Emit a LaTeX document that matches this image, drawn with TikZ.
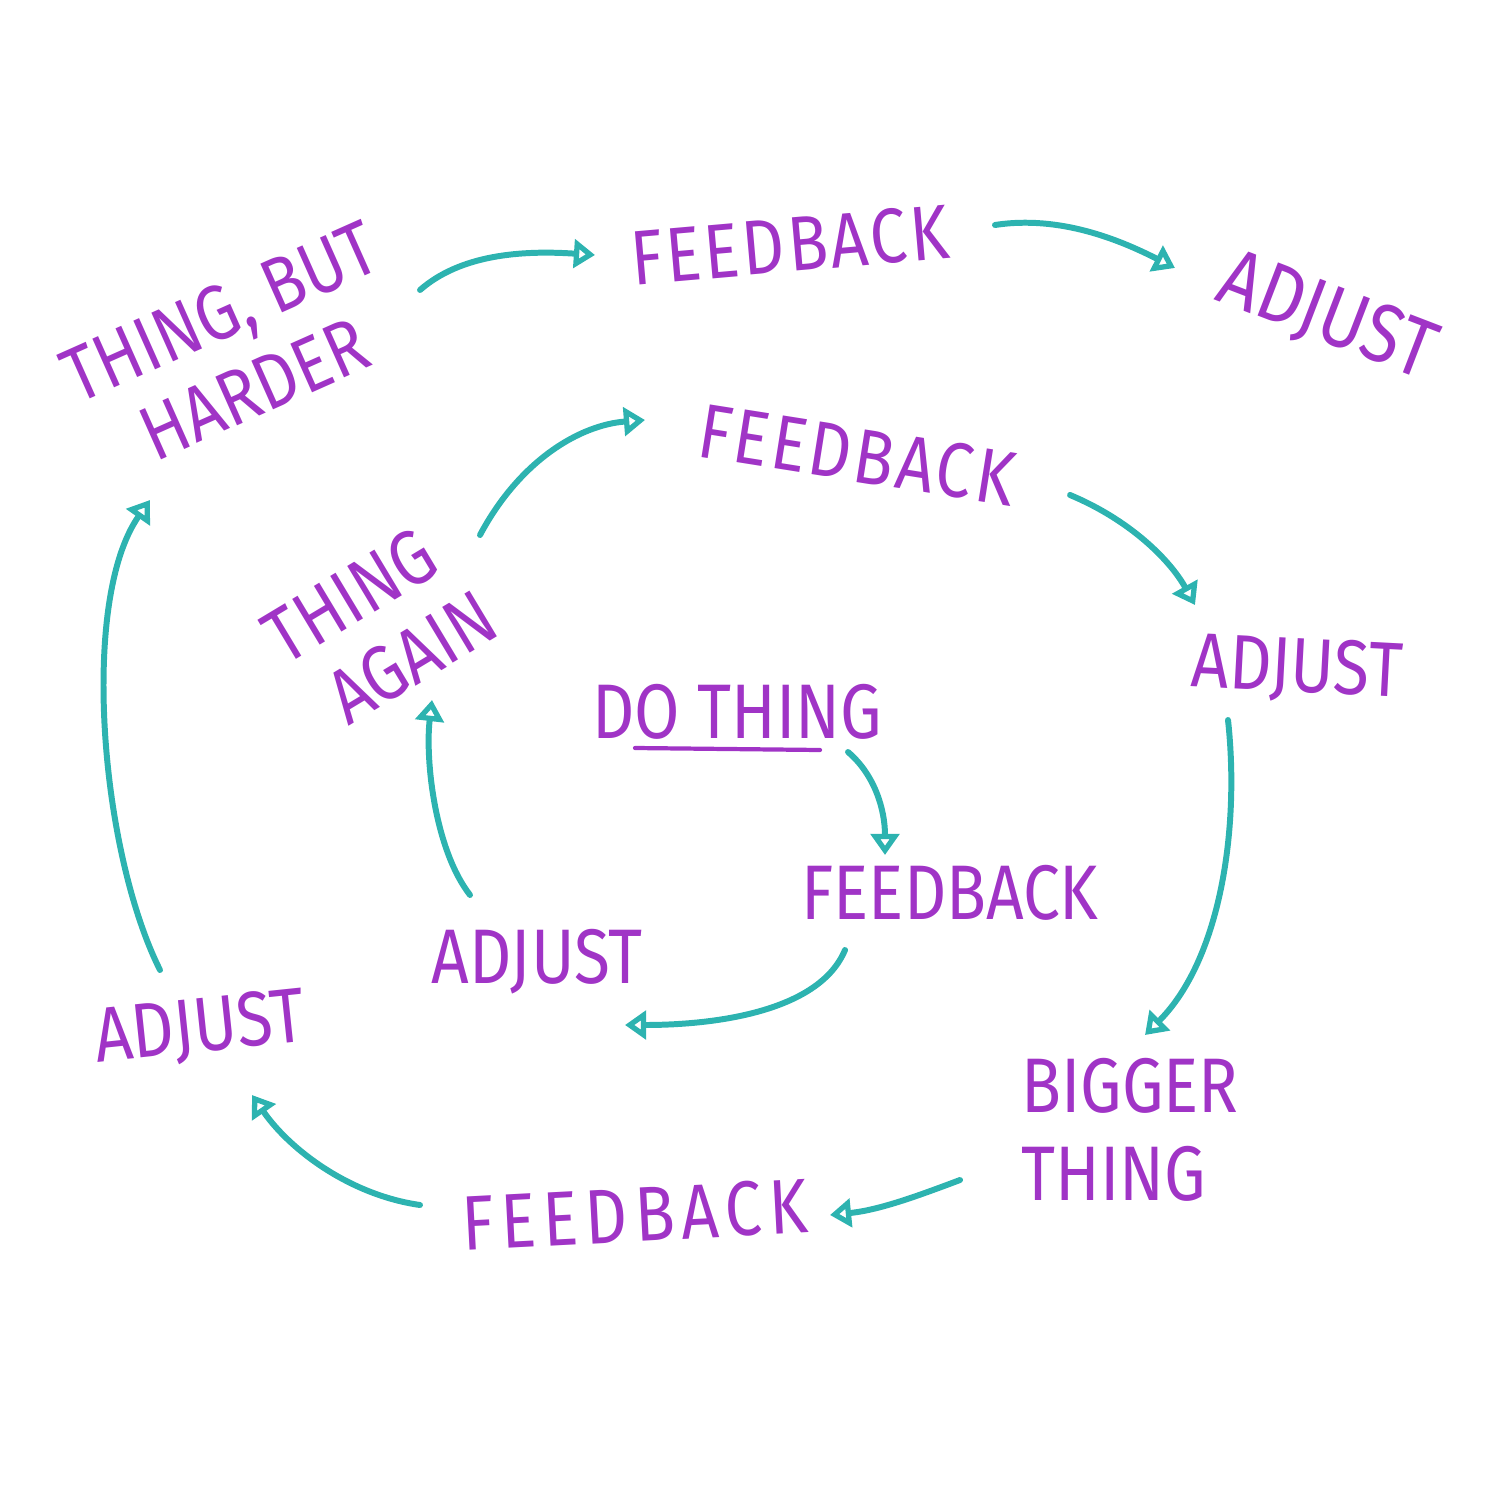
\documentclass[tikz,border=0pt]{standalone}
\usepackage{fontspec}
\setmainfont{Fira Sans}[FakeStretch=0.85]
\newfontfamily\wideA{Fira Sans}[FakeStretch=0.85, LetterSpace=4]
\newfontfamily\wideB{Fira Sans}[FakeStretch=0.85, LetterSpace=9]
\usetikzlibrary{arrows.meta,calc}
\definecolor{pur}{HTML}{A034C6}
\definecolor{tea}{HTML}{2DB3B0}
\tikzset{
  lbl/.style={text=pur, font=\fontsize{22}{24}\selectfont, inner sep=2pt, align=center},
  big/.style={lbl, font=\fontsize{23.5}{26}\selectfont},
  arr/.style={draw=tea, line width=1.7pt, line cap=round, -{Triangle[open,length=6pt,width=8pt]}}
}
\begin{document}
\begin{tikzpicture}[x=0.01cm,y=-0.01cm]
\useasboundingbox (0,0) rectangle (1500,1500);
% labels
\node[lbl] (dothing) at (737,712) {DO THING};
\draw[pur, line width=1.2pt, line cap=round] ($(dothing)+(-102,36)$) coordinate (ul1) -- ($(dothing)+(83,38)$) coordinate (ul2);
\node[lbl] (fb1) at (950,893) {FEEDBACK};
\node[lbl] (adj1) at (537,962) {ADJUST};
\node[lbl, rotate=31] (ta) at (372,632) {THING\\\hspace*{12pt}AGAIN};
\node[lbl, rotate=-9, font=\fontsize{22}{24}\wideA] (fb2) at (857,455) {FEEDBACK};
\node[lbl, rotate=-3] (adj2) at (1297,670) {ADJUST};
\node[lbl, align=left, font=\fontsize{22}{25}\selectfont] (bt) at (1130,1130) {BIGGER\\THING};
\node[lbl, rotate=3, font=\fontsize{22}{24}\wideB] (fb3) at (635,1215) {FEEDBACK};
\node[lbl, rotate=6] (adj3) at (200,1030) {ADJUST};
\node[lbl, rotate=24] (thb) at (237,350) {THING, BUT\\HARDER};
\node[lbl, rotate=5, font=\fontsize{22}{24}\wideA] (fb4) at (790,245) {FEEDBACK};
\node[big, rotate=-21] (adj4) at (1327,318) {ADJUST};
% arrows
\draw[arr] ($(dothing)+(111,40)$) .. controls (875,775) and (885,810) .. ($(fb1)+(-65,-38)$);
\draw[arr] ($(fb1)+(-105,57)$) .. controls (820,1010) and (720,1025) .. ($(adj1)+(88,63)$);
\draw[arr] ($(adj1)+(-67,-67)$) .. controls (435,850) and (425,760) .. ($(ta)+(60,68)$);
\draw[arr] ($(ta)+(108,-97)$) .. controls (520,460) and (580,425) .. ($(fb2)+(-212,-35)$);
\draw[arr] ($(fb2)+(213,40)$) .. controls (1130,520) and (1170,560) .. ($(adj2)+(-102,-65)$);
\draw[arr] ($(adj2)+(-69,50)$) .. controls (1240,830) and (1220,960) .. ($(bt)+(15,-95)$);
\draw[arr] ($(bt)+(-170,50)$) .. controls (920,1195) and (880,1210) .. ($(fb3)+(195,0)$);
\draw[arr] ($(fb3)+(-215,-10)$) .. controls (350,1195) and (290,1150) .. ($(adj3)+(52,65)$);
\draw[arr] ($(adj3)+(-40,-60)$) .. controls (100,850) and (80,600) .. ($(thb)+(-87,150)$);
\draw[arr] ($(thb)+(183,-60)$) .. controls (460,255) and (520,250) .. ($(fb4)+(-195,10)$);
\draw[arr] ($(fb4)+(205,-20)$) .. controls (1060,215) and (1120,240) .. ($(adj4)+(-152,-50)$);
\end{tikzpicture}
\end{document}
